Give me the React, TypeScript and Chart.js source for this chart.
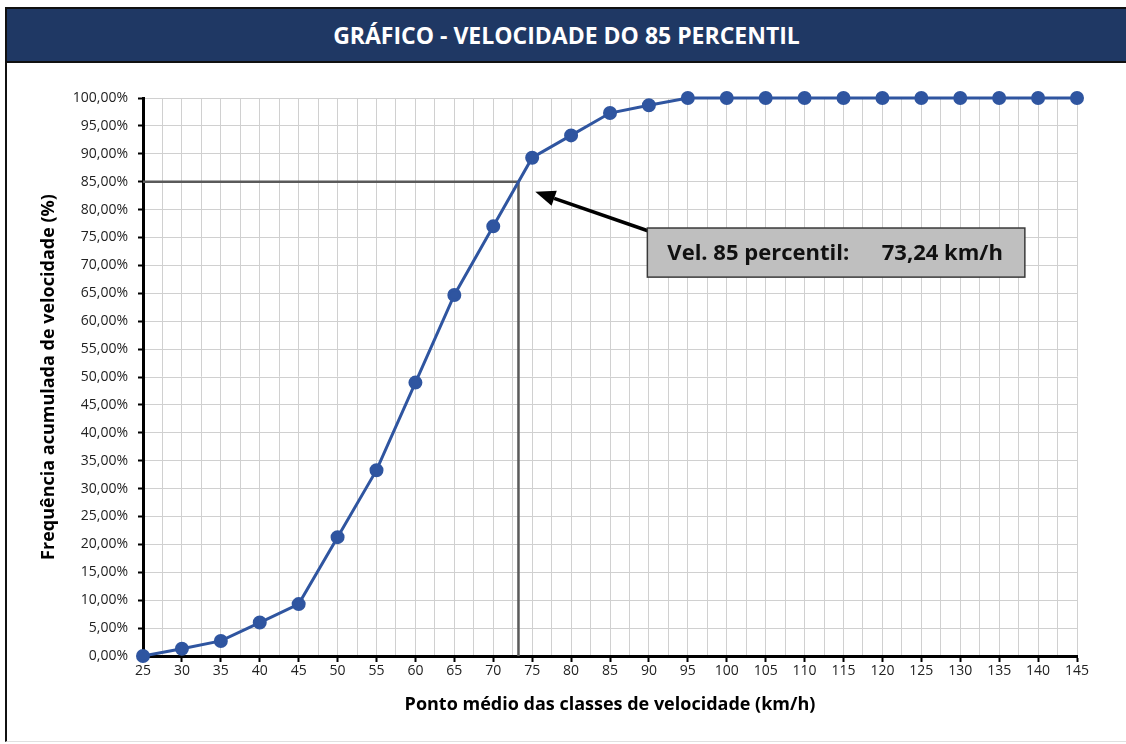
import React, { useEffect, useRef } from 'react';
import { Chart, registerables } from 'chart.js';

Chart.register(...registerables);

const speeds = [25, 30, 35, 40, 45, 50, 55, 60, 65, 70, 75, 80, 85, 90, 95, 100, 105, 110, 115, 120, 125, 130, 135, 140, 145];
const cumulative = [0, 1.3, 2.7, 6.0, 9.3, 21.3, 33.3, 49.0, 64.7, 77.0, 89.3, 93.3, 97.3, 98.7, 100, 100, 100, 100, 100, 100, 100, 100, 100, 100, 100];
const p85Speed = 73.24;
const p85Level = 85;
const xMin = 25;
const xMax = 145;
const yMin = 0;
const yMax = 100;

const titleText = 'GRÁFICO - VELOCIDADE DO 85 PERCENTIL';
const xTitle = 'Ponto médio das classes de velocidade (km/h)';
const yTitle = 'Frequência acumulada de velocidade (%)';
const calloutLabel = 'Vel. 85 percentil:';
const calloutValue = '73,24 km/h';
// callout box and arrow in data coordinates
const calloutX = [89.8, 138.3];
const calloutY = [67.9, 76.7];
const arrowTip = [75.4, 83.2];

const FONT = '"Open Sans", "DejaVu Sans", sans-serif';
const BLUE = '#2F55A0';

const calloutPlugin = {
  id: 'callout',
  afterDatasetsDraw(chart: any) {
    const { ctx } = chart;
    const xs = chart.scales.x;
    const ys = chart.scales.y;
    const x0 = xs.getPixelForValue(calloutX[0]);
    const x1 = xs.getPixelForValue(calloutX[1]);
    const y0 = ys.getPixelForValue(calloutY[1]);
    const y1 = ys.getPixelForValue(calloutY[0]);
    const tx = xs.getPixelForValue(arrowTip[0]);
    const ty = ys.getPixelForValue(arrowTip[1]);
    ctx.save();
    // arrow
    const sx = x0 + 4;
    const sy = y0 + 4;
    const ang = Math.atan2(ty - sy, tx - sx);
    const headLen = 20;
    const headW = 8;
    const bx = tx - headLen * Math.cos(ang);
    const by = ty - headLen * Math.sin(ang);
    ctx.strokeStyle = '#000';
    ctx.lineWidth = 3.5;
    ctx.beginPath();
    ctx.moveTo(sx, sy);
    ctx.lineTo(bx, by);
    ctx.stroke();
    ctx.fillStyle = '#000';
    ctx.beginPath();
    ctx.moveTo(tx, ty);
    ctx.lineTo(bx + headW * Math.sin(ang), by - headW * Math.cos(ang));
    ctx.lineTo(bx - headW * Math.sin(ang), by + headW * Math.cos(ang));
    ctx.closePath();
    ctx.fill();
    // box
    ctx.fillStyle = '#BFBFBF';
    ctx.fillRect(x0, y0, x1 - x0, y1 - y0);
    ctx.strokeStyle = '#3A3A3A';
    ctx.lineWidth = 1.5;
    ctx.strokeRect(x0, y0, x1 - x0, y1 - y0);
    ctx.fillStyle = '#111';
    ctx.font = `bold 22px ${FONT}`;
    ctx.textBaseline = 'middle';
    ctx.textAlign = 'left';
    const cy = (y0 + y1) / 2 + 1;
    ctx.fillText(calloutLabel, x0 + 20, cy);
    ctx.textAlign = 'right';
    ctx.fillText(calloutValue, x1 - 22, cy);
    ctx.restore();
  },
};

export default function App() {
  const ref = useRef<HTMLCanvasElement>(null);
  useEffect(() => {
    document.body.style.margin = '0';
    document.body.style.overflow = 'hidden';
    const canvas = ref.current!;
    const chart = new Chart(canvas, {
      type: 'line',
      data: {
        datasets: [
          {
            data: speeds.map((x, i) => ({ x, y: cumulative[i] })),
            borderColor: BLUE,
            backgroundColor: BLUE,
            pointBackgroundColor: BLUE,
            pointBorderColor: BLUE,
            pointRadius: 5.5,
            borderWidth: 3,
            clip: false,
            order: 0,
          } as any,
          {
            data: [
              { x: xMin, y: p85Level },
              { x: p85Speed, y: p85Level },
              { x: p85Speed, y: yMin },
            ],
            borderColor: '#5A5A5A',
            borderWidth: 2.5,
            pointRadius: 0,
            order: 1,
          } as any,
        ],
      },
      options: {
        responsive: false,
        animation: false,
        layout: { padding: { left: 38, top: 98, right: 49, bottom: 28 } },
        plugins: { legend: { display: false }, tooltip: { enabled: false } },
        scales: {
          x: {
            type: 'linear',
            min: xMin,
            max: xMax,
            afterFit: (s: any) => { s.height = 60; },
            ticks: {
              stepSize: 2.5,
              autoSkip: false,
              maxRotation: 0,
              padding: 1,
              color: '#222',
              font: { family: FONT, size: 14 },
              callback: (v: any) => (Number(v) % 5 === 0 ? String(v) : ''),
            },
            grid: {
              color: '#D0D0D0',
              lineWidth: 1,
              tickLength: 6,
              tickWidth: 2,
              tickColor: (c: any) => (c.tick && c.tick.value % 5 === 0 ? '#000' : 'rgba(0,0,0,0)'),
            },
            border: { color: '#000', width: 3 },
            title: {
              display: true,
              text: xTitle,
              color: '#000',
              padding: 0,
              font: { family: FONT, size: 18, weight: 'bold' },
            },
          },
          y: {
            type: 'linear',
            min: yMin,
            max: yMax,
            afterFit: (s: any) => { s.width = 105; },
            ticks: {
              stepSize: 5,
              autoSkip: false,
              padding: 10,
              color: '#222',
              font: { family: FONT, size: 14 },
              callback: (v: any) => Number(v).toFixed(2).replace('.', ',') + '%',
            },
            grid: {
              color: '#D0D0D0',
              lineWidth: 1,
              tickLength: 5,
              tickWidth: 2,
              tickColor: '#000',
            },
            border: { color: '#000', width: 3 },
            title: {
              display: true,
              text: yTitle,
              color: '#000',
              padding: 0,
              font: { family: FONT, size: 18, weight: 'bold' },
            },
          },
        },
      } as any,
      plugins: [calloutPlugin],
    });
    return () => chart.destroy();
  }, []);

  return (
    <div style={{ position: 'relative', width: 1126, height: 744, overflow: 'hidden', background: '#fff' }}>
      <div
        style={{
          position: 'absolute',
          left: 5,
          top: 7,
          width: 1121,
          height: 735,
          boxSizing: 'border-box',
          borderLeft: '2px solid #111',
          borderTop: '2px solid #111',
          borderBottom: '1px solid #E0E0E0',
        }}
      >
        <div
          style={{
            height: 52,
            background: '#1F3864',
            borderBottom: '2px solid #111',
            color: '#fff',
            fontFamily: FONT,
            fontWeight: 'bold',
            fontSize: 23,
            display: 'flex',
            alignItems: 'center',
            justifyContent: 'center',
          }}
        >
          {titleText}
        </div>
      </div>
      <canvas ref={ref} width={1126} height={744} style={{ position: 'absolute', left: 0, top: 0 }} />
    </div>
  );
}
